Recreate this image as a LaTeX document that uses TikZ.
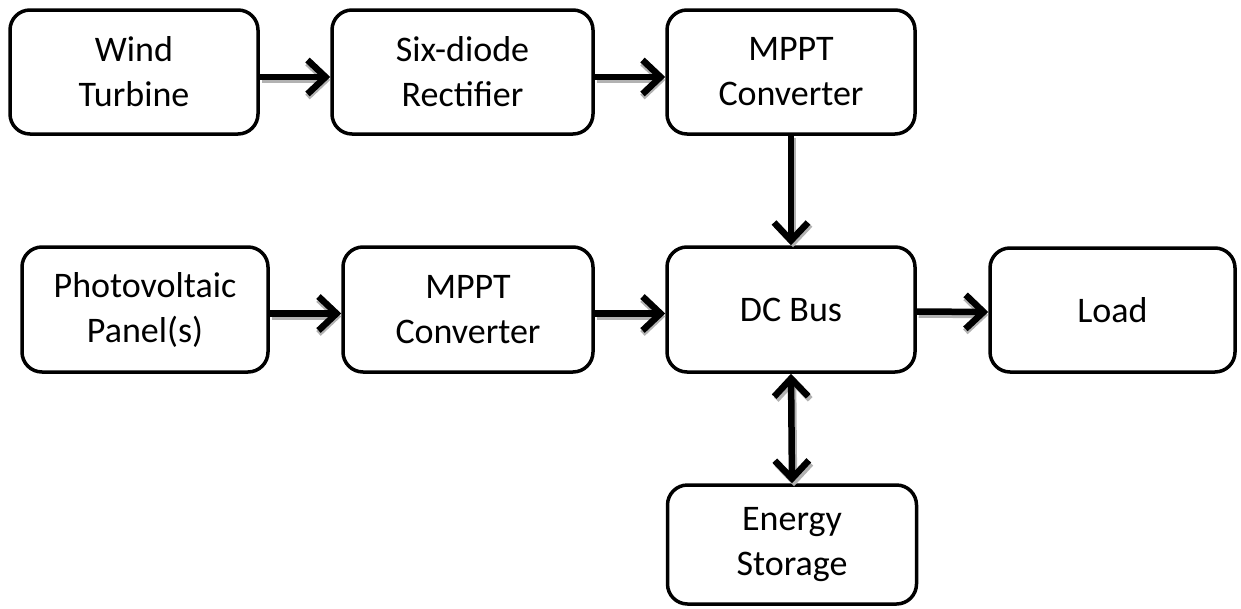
\documentclass[tikz,border=0pt]{standalone}
\usepackage{fontspec}
\setmainfont{Carlito}
\usetikzlibrary{arrows.meta}
\tikzset{
  box/.style={draw, line width=3.5pt, rounded corners=20pt, align=center,
    font=\fontsize{36}{45}\selectfont, inner sep=0pt, fill=white},
  tip/.style={Straight Barb[length=18pt,width=34pt]},
  flow/.style={line width=6.5pt, -{Straight Barb[length=18pt,width=34pt]}},
  flowboth/.style={line width=6.5pt, {Straight Barb[length=18pt,width=34pt]}-{Straight Barb[length=18pt,width=34pt]}},
  shade/.style={draw=black!30}
}
\begin{document}
\begin{tikzpicture}[x=1pt,y=-1pt]
\useasboundingbox (0,0) rectangle (1241,608);
\node[box, minimum width=248pt, minimum height=124pt] (wind)  at (134,72)    {Wind\\Turbine};
\node[box, minimum width=261pt, minimum height=124pt] (six)   at (462.5,72)  {Six-diode\\Rectifier};
\node[box, minimum width=248pt, minimum height=124pt] (mppta) at (791,72)    {MPPT\\Converter};
\node[box, minimum width=246pt, minimum height=125pt] (pv)    at (145,309.5) {Photovoltaic\\Panel(s)};
\node[box, minimum width=250pt, minimum height=125pt] (mpptb) at (468,309.5) {MPPT\\Converter};
\node[box, minimum width=248pt, minimum height=125pt] (dc)    at (791,309.5) {DC Bus};
\node[box, minimum width=245pt, minimum height=124pt] (load)  at (1112.5,310) {Load};
\node[box, minimum width=249pt, minimum height=119pt] (es)    at (792,544.5) {Energy\\Storage};

% shadows
\begin{scope}[shade]
\draw[flow] ([shift={(2pt,-8pt)}]wind.east)  -- ([shift={(0pt,-8pt)}]six.west);
\draw[flow] ([shift={(2pt,-8pt)}]six.east)   -- ([shift={(0pt,-8pt)}]mppta.west);
\draw[flow] ([shift={(2pt,-7pt)}]pv.east)    -- ([shift={(0pt,-7pt)}]mpptb.west);
\draw[flow] ([shift={(2pt,-7pt)}]mpptb.east) -- ([shift={(0pt,-7pt)}]dc.west);
\draw[flow] ([shift={(2pt,-5pt)}]dc.east)    -- ([shift={(0pt,-5pt)}]load.west);
\draw[flow] ([shift={(2pt,-2pt)}]mppta.south) -- ([shift={(2pt,-2pt)}]dc.north);
\draw[flowboth] ([shift={(2pt,-3pt)}]dc.south) -- ([shift={(2pt,-3pt)}]es.north);
\end{scope}

% arrows
\draw[flow] ([yshift=-5pt]wind.east)  -- ([yshift=-5pt]six.west);
\draw[flow] ([yshift=-5pt]six.east)   -- ([yshift=-5pt]mppta.west);
\draw[flow] ([yshift=-4pt]pv.east)    -- ([yshift=-4pt]mpptb.west);
\draw[flow] ([yshift=-4pt]mpptb.east) -- ([yshift=-4pt]dc.west);
\draw[flow] ([yshift=-2pt]dc.east)    -- ([yshift=-2pt]load.west);
\draw[flow] (mppta.south) -- (dc.north);
\draw[flowboth] (dc.south) -- (es.north);
\end{tikzpicture}
\end{document}
